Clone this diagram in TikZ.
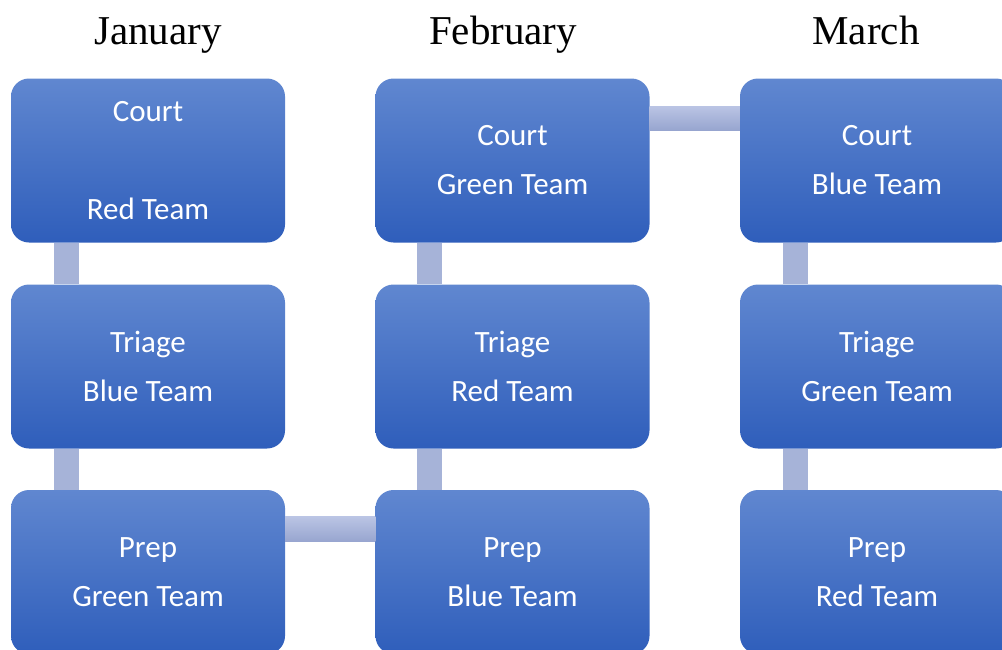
\documentclass[tikz,border=0pt]{standalone}
\usepackage{fontspec}
\setmainfont{Liberation Serif}
\newfontfamily\boxfont{Carlito}
\definecolor{boxtop}{HTML}{6087D0}
\definecolor{boxmid}{HTML}{4673CA}
\definecolor{boxbot}{HTML}{2F5EBB}
\definecolor{linkv}{HTML}{A6B3D8}
\definecolor{linktop}{HTML}{BAC4E4}
\definecolor{linkbot}{HTML}{97A5CF}
\tikzset{
    duty/.style={rectangle, rounded corners=18pt, minimum width=274pt, minimum height=164pt,
        top color=boxtop, middle color=boxmid, bottom color=boxbot, text=white,
        align=center, inner sep=0pt, font=\boxfont\fontsize{31}{49}\selectfont},
    month/.style={anchor=base, font=\fontsize{41}{41}\selectfont},
    vlink/.style={fill=linkv},
    hlink/.style={top color=linktop, bottom color=linkbot}
}
\begin{document}
\begin{tikzpicture}[x=1pt, y=-1pt]

    \useasboundingbox (0,0) rectangle (1002,649);

    % Meses
    \node[month] (jan) at (158,44) {January};
    \node[month] (feb) at (503,44) {February};
    \node[month] (mar) at (866,44) {March};

    % Janeiro
    \node[duty] (jc) at (148,160.5) {Court\\ \mbox{}\\ Red Team};
    \node[duty] (jt) at (148,366.5) {Triage\\Blue Team};
    \node[duty] (jp) at (148,572) {Prep\\Green Team};

    % Fevereiro
    \node[duty] (fc) at (512.5,160.5) {Court\\Green Team};
    \node[duty] (ft) at (512.5,366.5) {Triage\\Red Team};
    \node[duty] (fp) at (512.5,572) {Prep\\Blue Team};

    % Marco
    \node[duty] (mc) at (877,160.5) {Court\\Blue Team};
    \node[duty] (mt) at (877,366.5) {Triage\\Green Team};
    \node[duty] (mp) at (877,572) {Prep\\Red Team};

    % Ligacoes
    \fill[vlink] ([xshift=43pt]jc.south west) rectangle ([xshift=68pt]jt.north west);
    \fill[vlink] ([xshift=43pt]jt.south west) rectangle ([xshift=68pt]jp.north west);
    \fill[vlink] ([xshift=42pt]fc.south west) rectangle ([xshift=67pt]ft.north west);
    \fill[vlink] ([xshift=42pt]ft.south west) rectangle ([xshift=67pt]fp.north west);
    \fill[vlink] ([xshift=43pt]mc.south west) rectangle ([xshift=68pt]mt.north west);
    \fill[vlink] ([xshift=43pt]mt.south west) rectangle ([xshift=68pt]mp.north west);
    \shade[hlink] ([yshift=-28pt]fc.north east) rectangle ([yshift=-52pt]mc.north west);
    \shade[hlink] ([yshift=-27pt]jp.north east) rectangle ([yshift=-52pt]fp.north west);

\end{tikzpicture}
\end{document}
